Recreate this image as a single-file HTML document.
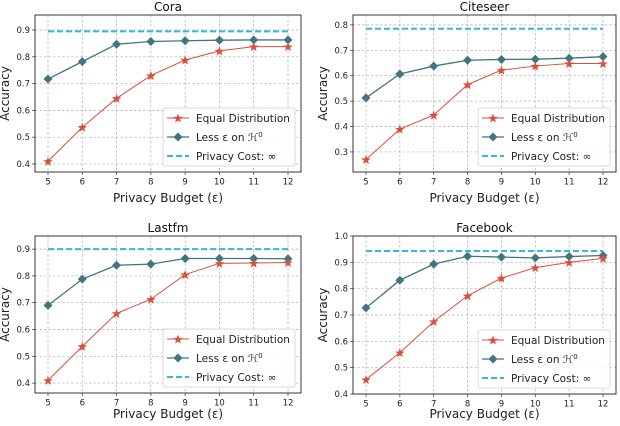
<!DOCTYPE html>
<html><head><meta charset="utf-8"><style>
body{margin:0;background:#fff;width:620px;height:426px;overflow:hidden}
svg{display:block;font-family:"DejaVu Sans","Liberation Sans",sans-serif}
</style></head><body>
<svg id="fig" width="620" height="426" viewBox="0 0 620 426" xmlns="http://www.w3.org/2000/svg"></svg>
<script>
const budgets = [5,6,7,8,9,10,11,12];
const coraEqual = [0.41,0.537,0.645,0.73,0.788,0.822,0.838,0.838];
const coraLess = [0.717,0.782,0.847,0.857,0.86,0.862,0.863,0.863];
const coraCost = 0.895;
const coraTicks = [0.4,0.5,0.6,0.7,0.8,0.9];
const citeEqual = [0.27,0.39,0.445,0.565,0.622,0.638,0.648,0.648];
const citeLess = [0.513,0.607,0.638,0.661,0.664,0.665,0.669,0.675];
const citeCost = 0.785;
const citeTicks = [0.3,0.4,0.5,0.6,0.7,0.8];
const lastEqual = [0.41,0.537,0.66,0.713,0.805,0.847,0.848,0.85];
const lastLess = [0.69,0.788,0.84,0.844,0.865,0.865,0.865,0.864];
const lastCost = 0.9;
const lastTicks = [0.4,0.5,0.6,0.7,0.8,0.9];
const fbEqual = [0.455,0.557,0.675,0.773,0.84,0.88,0.9,0.915];
const fbLess = [0.727,0.832,0.893,0.923,0.92,0.917,0.922,0.926];
const fbCost = 0.943;
const fbTicks = [0.4,0.5,0.6,0.7,0.8,0.9,1.0];

const NS="http://www.w3.org/2000/svg";
const svg=document.getElementById('fig');
function mk(tag,attrs,parent,txt){const e=document.createElementNS(NS,tag);for(const k in attrs)e.setAttribute(k,attrs[k]);if(txt!==undefined)e.textContent=txt;(parent||svg).appendChild(e);return e;}
function starPts(cx,cy,R){const r=R*0.42;let p=[];for(let i=0;i<10;i++){const a=-Math.PI/2+i*Math.PI/5;const rr=i%2?r:R;p.push((cx+rr*Math.cos(a)).toFixed(2)+','+(cy+rr*Math.sin(a)).toFixed(2));}return p.join(' ');}
const RED='#d9503f', TEAL='#41757f', CYAN='#33b8dc';

function panel(name,title,box,ymin,ymax,ticks,eq,less,cost,xlOff){
  const g=mk('g',{});
  
  
  const [L,T,R,B]=box;
  const x0=L+13, x1=R-13;
  const xs=v=>x0+(v-budgets[0])/(budgets[budgets.length-1]-budgets[0])*(x1-x0);
  const ys=v=>B-(v-ymin)/(ymax-ymin)*(B-T);
  budgets.forEach(b=>{const l=mk('line',{x1:xs(b),x2:xs(b),y1:T,y2:B,stroke:'#b0b0b0','stroke-width':0.7,'stroke-dasharray':'2.5,2'},g);});
  ticks.forEach(t=>{const l=mk('line',{x1:L,x2:R,y1:ys(t),y2:ys(t),stroke:'#b0b0b0','stroke-width':0.7,'stroke-dasharray':'2.5,2'},g);});
  budgets.forEach(b=>{mk('line',{x1:xs(b),x2:xs(b),y1:B,y2:B+3,stroke:'#333','stroke-width':0.7},g);const t=mk('text',{x:xs(b),y:B+12.5,'font-size':8.5,'text-anchor':'middle',fill:'#222'},g,String(b));});
  ticks.forEach(v=>{mk('line',{x1:L-3,x2:L,y1:ys(v),y2:ys(v),stroke:'#333','stroke-width':0.7},g);const t=mk('text',{x:L-5,y:ys(v)+3,'font-size':8.5,'text-anchor':'end',fill:'#222'},g,v.toFixed(1));});
  const c=mk('line',{x1:xs(5),x2:xs(12),y1:ys(cost),y2:ys(cost),stroke:CYAN,'stroke-width':2,'stroke-dasharray':'6,3'},g);
  
  const lp=mk('polyline',{points:less.map((v,i)=>xs(budgets[i])+','+ys(v)).join(' '),fill:'none',stroke:TEAL,'stroke-width':1.3},g);
  
  less.forEach((v,i)=>{const m=mk('polygon',{points:`${xs(budgets[i])},${ys(v)-4.5} ${xs(budgets[i])+4.5},${ys(v)} ${xs(budgets[i])},${ys(v)+4.5} ${xs(budgets[i])-4.5},${ys(v)}`,fill:TEAL},g);});
  const ep=mk('polyline',{points:eq.map((v,i)=>xs(budgets[i])+','+ys(v)).join(' '),fill:'none',stroke:RED,'stroke-width':1},g);
  
  eq.forEach((v,i)=>{const m=mk('polygon',{points:starPts(xs(budgets[i]),ys(v)+0.5,5),fill:RED},g);});
  const f=mk('rect',{x:L,y:T,width:R-L,height:B-T,fill:'none',stroke:'#222','stroke-width':0.9},g);
  
  const tt=mk('text',{x:(L+R)/2,y:T-4,'font-size':12,'text-anchor':'middle',fill:'#111'},g,title);
  
  const xl=mk('text',{x:(L+R)/2,y:B+xlOff,'font-size':12,'text-anchor':'middle',fill:'#222'},g,'Privacy Budget (\u03B5)');
  
  const yl=mk('text',{x:0,y:0,'font-size':12,'text-anchor':'middle',fill:'#222',transform:`translate(${L-26},${(T+B)/2}) rotate(-90)`},g,'Accuracy');
  
  const lx=R-138, ly=B-64;
  const lg=mk('g',{},g);
  
  mk('rect',{x:lx,y:ly,width:132,height:58,rx:2,fill:'#fff','fill-opacity':0.85,stroke:'#d0d0d0','stroke-width':0.8},lg);
  const r1=ly+10, r2=ly+29, r3=ly+48, sx0=lx+4, sx1=lx+26, tx=lx+33;
  mk('line',{x1:sx0,x2:sx1,y1:r1,y2:r1,stroke:RED,'stroke-width':1},lg);
  mk('polygon',{points:starPts((sx0+sx1)/2,r1+0.5,5),fill:RED},lg);
  const e1=mk('text',{x:tx,y:r1+4,'font-size':10.5,fill:'#222'},lg,'Equal Distribution');
  mk('line',{x1:sx0,x2:sx1,y1:r2,y2:r2,stroke:TEAL,'stroke-width':1.3},lg);
  const m=(sx0+sx1)/2;mk('polygon',{points:`${m},${r2-4.5} ${m+4.5},${r2} ${m},${r2+4.5} ${m-4.5},${r2}`,fill:TEAL},lg);
  const e2=mk('text',{x:tx,y:r2+4,'font-size':10.5,fill:'#222'},lg);
  e2.textContent='Less \u03B5 on \u210B';mk('tspan',{'font-size':7,dy:-4},e2,'0');
  mk('line',{x1:sx0,x2:sx1,y1:r3,y2:r3,stroke:CYAN,'stroke-width':2,'stroke-dasharray':'6,3'},lg);
  const e3=mk('text',{x:tx,y:r3+4,'font-size':10.5,fill:'#222'},lg,'Privacy Cost: \u221E');
}
panel('cora','Cora',[35,15,301,172],0.370,0.956,coraTicks,coraEqual,coraLess,coraCost,30);
panel('citeseer','Citeseer',[353,15,616,172],0.221,0.839,citeTicks,citeEqual,citeLess,citeCost,30);
panel('lastfm','Lastfm',[35,236,301,393],0.363,0.949,lastTicks,lastEqual,lastLess,lastCost,25);
panel('facebook','Facebook',[353,236,616,394],0.4,1.0,fbTicks,fbEqual,fbLess,fbCost,24);
</script>
</body></html>
